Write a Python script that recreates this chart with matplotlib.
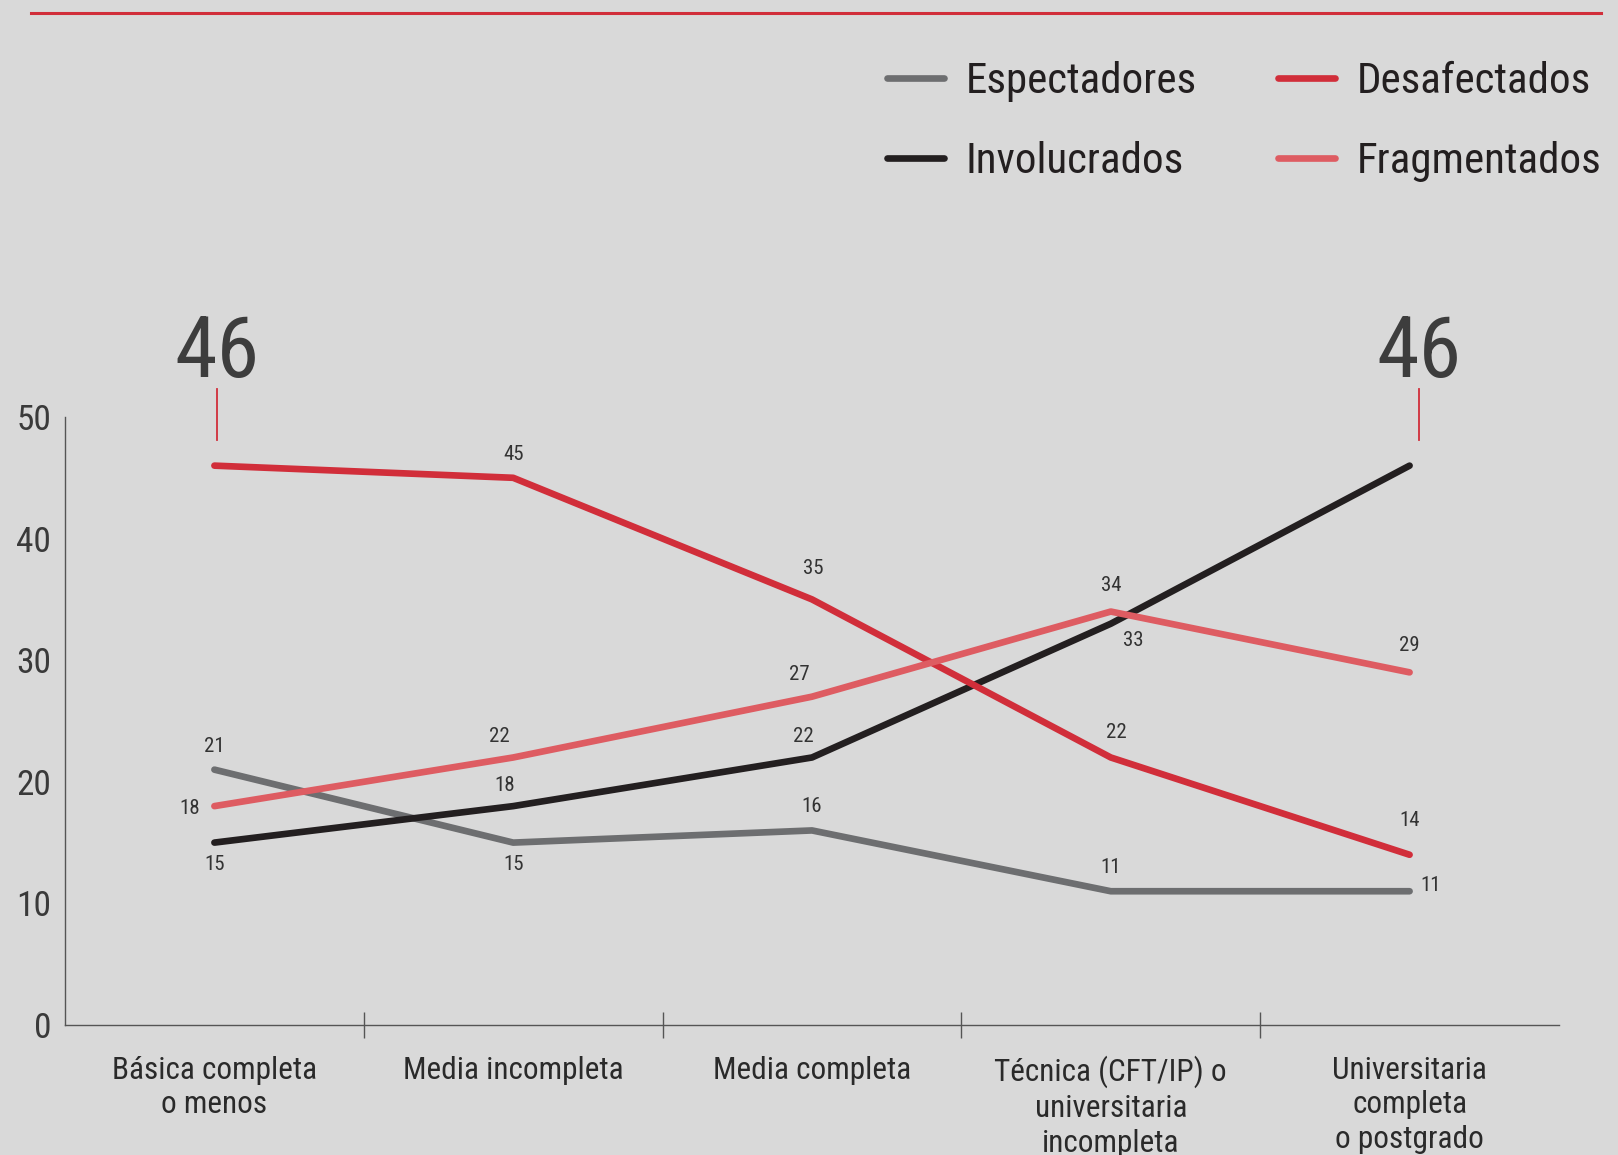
import matplotlib
matplotlib.use("Agg")
import matplotlib.pyplot as plt
from matplotlib import font_manager
from matplotlib.lines import Line2D

# fuente condensada si existe
nombres = set(f.name for f in font_manager.fontManager.ttflist)
familia = "DejaVu Sans"
for cand in ["Liberation Sans Narrow", "Roboto Condensed", "Open Sans Condensed"]:
    if cand in nombres:
        familia = cand
        break
plt.rcParams['font.family'] = [familia, 'DejaVu Sans']
plt.rcParams['font.stretch'] = 'condensed'

# datos
categorias = ["Básica completa\no menos", "Media incompleta", "Media completa",
              "Técnica (CFT/IP) o\nuniversitaria\nincompleta",
              "Universitaria\ncompleta\no postgrado"]
espectadores = [21, 15, 16, 11, 11]
involucrados = [15, 18, 22, 33, 46]
desafectados = [46, 45, 35, 22, 14]
fragmentados = [18, 22, 27, 34, 29]

c_gris = "#6d6e70"
c_negro = "#231f20"
c_rojo = "#d12e3a"
c_rosa = "#de5c62"
fondo = "#d9d9d9"

fig = plt.figure(figsize=(16.18, 11.55), dpi=100, facecolor=fondo)
ax = fig.add_axes([65/1618, 1 - 1025/1155, 1494/1618, (1025-417)/1155])
ax.set_facecolor(fondo)

x = list(range(len(categorias)))
lw = 4.8
ax.plot(x, espectadores, color=c_gris, lw=lw, solid_capstyle='round', solid_joinstyle='round', label="Espectadores")
ax.plot(x, involucrados, color=c_negro, lw=lw, solid_capstyle='round', solid_joinstyle='round', label="Involucrados")
ax.plot(x, desafectados, color=c_rojo, lw=lw, solid_capstyle='round', solid_joinstyle='round', label="Desafectados")
ax.plot(x, fragmentados, color=c_rosa, lw=lw, solid_capstyle='round', solid_joinstyle='round', label="Fragmentados")

ax.set_xlim(-0.5, 4.5)
ax.set_ylim(0, 50)
for s in ["top", "right"]:
    ax.spines[s].set_visible(False)
for s in ["left", "bottom"]:
    ax.spines[s].set_color("#555555")
    ax.spines[s].set_linewidth(1.0)

ax.set_yticks([0, 10, 20, 30, 40, 50])
ax.tick_params(axis='y', length=0, pad=10, labelsize=25.5, labelcolor="#3a3a3a")
ax.set_xticks(x)
ax.set_xticklabels(categorias, linespacing=1.25)
ax.tick_params(axis='x', which='major', length=0, pad=22, labelsize=22.5, labelcolor="#2a2a2a")
ax.set_xticks([0.5, 1.5, 2.5, 3.5], minor=True)
ax.tick_params(axis='x', which='minor', direction='inout', length=19, width=1.0, color="#555555")

# etiquetas de valores (desplazamiento en puntos)
fs = 15
col_txt = "#333333"
def etiqueta(serie, i, dx, dy):
    ax.annotate(str(serie[i]), (i, serie[i]), xytext=(dx, dy), textcoords='offset points',
                ha='center', va='center', fontsize=fs, color=col_txt)

etiqueta(espectadores, 0, 0, 17)
etiqueta(espectadores, 1, 0, -16)
etiqueta(espectadores, 2, 0, 17)
etiqueta(espectadores, 3, 0, 17)
etiqueta(espectadores, 4, 15, 4)

etiqueta(involucrados, 0, 0, -16)
etiqueta(involucrados, 1, -6, 15)
etiqueta(involucrados, 2, -6, 15)
etiqueta(involucrados, 3, 16, -12)

etiqueta(desafectados, 1, 0, 17)
etiqueta(desafectados, 2, 1, 22)
etiqueta(desafectados, 3, 4, 18)
etiqueta(desafectados, 4, 0, 25)

etiqueta(fragmentados, 0, -18, -2)
etiqueta(fragmentados, 1, -10, 15)
etiqueta(fragmentados, 2, -9, 16)
etiqueta(fragmentados, 3, 0, 19)
etiqueta(fragmentados, 4, 0, 19)

# máximos destacados
for i, v, dx in [(0, desafectados[0], 0.01), (4, involucrados[4], 0.03)]:
    ax.plot([i + dx, i + dx], [48.1, 52.3], color=c_rojo, lw=1.3, clip_on=False)
    ax.text(i + dx, 55.2, str(v), ha='center', va='center', fontsize=62, color="#3d3d3d")

# línea roja superior
fig.add_artist(Line2D([31/1618, 1601/1618], [1 - 13/1155, 1 - 13/1155], color=c_rojo, lw=2.2))

handles, labels = ax.get_legend_handles_labels()
fig.legend(handles, labels, ncol=2, loc='upper left', bbox_to_anchor=(887/1618, 1 - 61/1155),
           frameon=False, fontsize=31, handlelength=1.32, handletextpad=0.5,
           columnspacing=1.9, labelspacing=0.9, labelcolor="#231f20",
           borderpad=0, borderaxespad=0)

fig.savefig("out.png", dpi=100, facecolor=fondo)
